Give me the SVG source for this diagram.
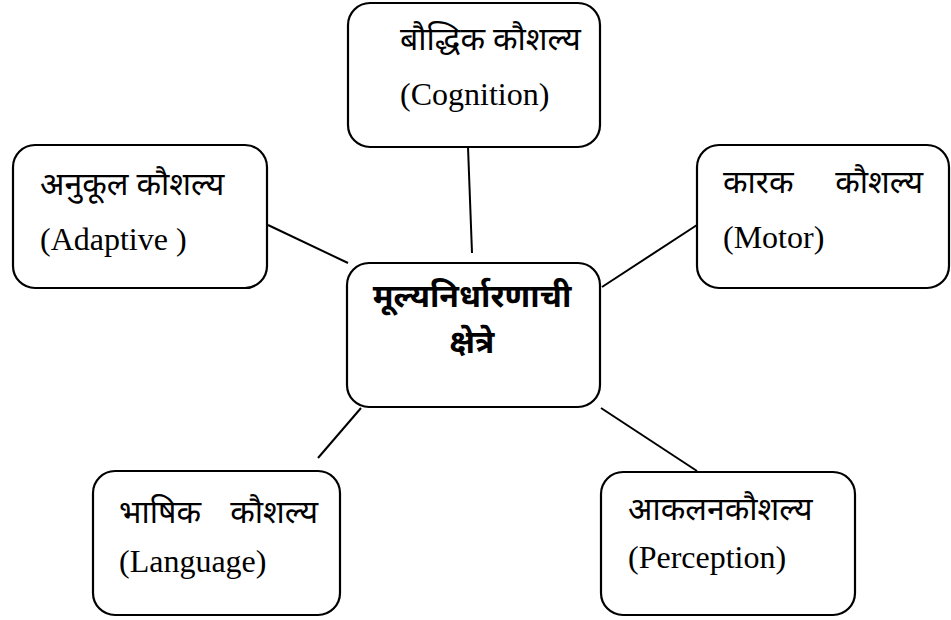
<svg xmlns="http://www.w3.org/2000/svg" width="951" height="620" viewBox="0 0 951 620">
<style>
.box{fill:#fff;stroke:#000;stroke-width:2.2}
.t{font-family:"Liberation Serif","Noto Sans",serif;font-size:32px;fill:#000}
.b{font-family:"Liberation Serif","Noto Sans",serif;font-size:32px;font-weight:bold;fill:#000}
.ln{stroke:#000;stroke-width:2;fill:none}
</style>
<rect width="951" height="620" fill="#fff"/>
<g id="connectors">
<line class="ln" x1="468" y1="147" x2="472" y2="253"/>
<line class="ln" x1="268" y1="225" x2="348" y2="263"/>
<line class="ln" x1="602" y1="287" x2="697" y2="225"/>
<line class="ln" x1="601" y1="408" x2="697" y2="471"/>
<line class="ln" x1="361" y1="408" x2="318" y2="458"/>
</g>
<g id="cognition">
<rect class="box" x="348" y="3" width="252" height="144" rx="22"/>
<text class="t" x="400" y="50">बौद्धिक कौशल्य</text>
<text class="t" x="400" y="105">(Cognition)</text>
</g>
<g id="adaptive">
<rect class="box" x="13" y="145" width="254" height="143" rx="22"/>
<text class="t" x="40" y="195">अनुकूल कौशल्य</text>
<text class="t" x="40" y="250">(Adaptive )</text>
</g>
<g id="motor">
<rect class="box" x="697" y="145" width="252" height="143" rx="22"/>
<text class="t" x="723" y="193">कारक</text>
<text class="t" x="923" y="193" text-anchor="end">कौशल्य</text>
<text class="t" x="723" y="248">(Motor)</text>
</g>
<g id="center">
<rect class="box" x="347" y="263" width="253" height="144" rx="22"/>
<text class="b" x="472" y="307" text-anchor="middle">मूल्यनिर्धारणाची</text>
<text class="b" x="472" y="353" text-anchor="middle">क्षेत्रे</text>
</g>
<g id="language">
<rect class="box" x="93" y="471" width="247" height="144" rx="22"/>
<text class="t" x="119" y="523">भाषिक</text>
<text class="t" x="318" y="523" text-anchor="end">कौशल्य</text>
<text class="t" x="119" y="572">(Language)</text>
</g>
<g id="perception">
<rect class="box" x="601" y="472" width="254" height="143" rx="22"/>
<text class="t" x="628" y="520">आकलनकौशल्य</text>
<text class="t" x="628" y="568">(Perception)</text>
</g>
</svg>
